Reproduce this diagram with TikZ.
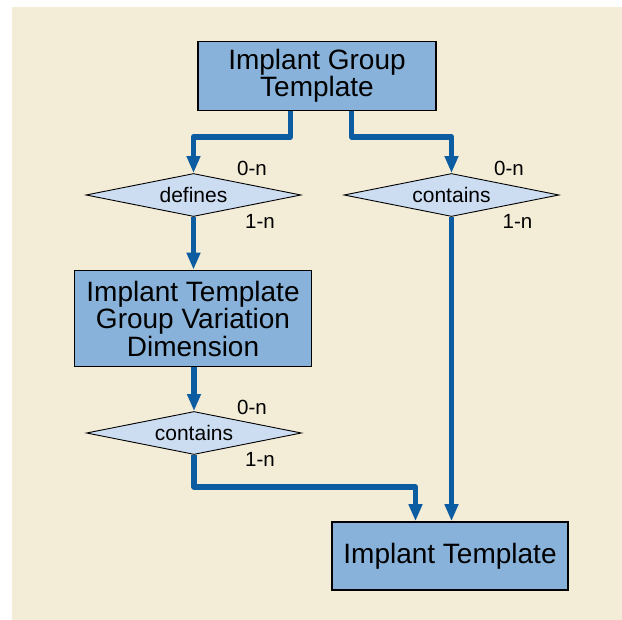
\documentclass[tikz,border=0pt]{standalone}
\usepackage{fontspec}
\setmainfont{Liberation Sans}
\usetikzlibrary{shapes.geometric,arrows.meta}
\definecolor{paper}{HTML}{F3ECD7}
\definecolor{entityfill}{HTML}{88B2D9}
\definecolor{relfill}{HTML}{CCDDF1}
\definecolor{flowblue}{HTML}{0B5CA0}
\begin{document}
\begin{tikzpicture}[x=1pt,y=-1pt,
  entity/.style={draw=black,line width=1.6pt,fill=entityfill,rectangle,
    inner sep=0pt,align=center,font=\fontsize{28}{27.5}\selectfont},
  relation/.style={draw=black,line width=0.9pt,fill=relfill,diamond,aspect=5,
    inner sep=0pt,minimum width=215pt,minimum height=43pt,
    font=\fontsize{21}{24}\selectfont},
  card/.style={inner sep=0pt,font=\fontsize{20.5}{24}\selectfont},
  flow/.style={draw=flowblue,line width=5.5pt,line join=round,
    -{Triangle[width=13pt,length=17pt]}}]
  \useasboundingbox (0,0) rectangle (622,620);
  \fill[paper] (12,7) rectangle (622,620);

  % entities
  \node[entity,minimum width=238pt,minimum height=69pt] (igt) at (317,76)
    {Implant Group\\Template};
  \node[entity,minimum width=237pt,minimum height=96pt] (itgvd) at (193,318.5)
    {Implant Template\\Group Variation\\Dimension};
  \node[entity,minimum width=236pt,minimum height=68pt] (it) at (450,556)
    {Implant Template};

  % relationships
  \node[relation] (defines) at (193.5,195) {defines};
  \node[relation] (containsR) at (451.5,195) {contains};
  \node[relation] (containsL) at (194,433) {contains};

  % cardinalities
  \node[card] (c1) at (252,168) {0-n};
  \node[card] (c2) at (260,221) {1-n};
  \node[card] (c3) at (509,168) {0-n};
  \node[card] (c4) at (517.5,221) {1-n};
  \node[card] (c5) at (252,407) {0-n};
  \node[card] (c6) at (260,459) {1-n};

  % connectors
  \draw[flow] ([xshift=-26.5pt]igt.south) -- ++(0,25.5) -| (defines.north);
  \draw[flow] ([xshift=34.7pt]igt.south) -- ++(0,25.5) -| (containsR.north);
  \draw[flow] (defines.south) -- (defines.south |- itgvd.north);
  \draw[flow] (itgvd.south -| containsL.north) -- (containsL.north);
  \draw[flow] (containsL.south) -- ++(0,32) -| ([xshift=-34.5pt]it.north);
  \draw[flow] (containsR.south) -- (containsR.south |- it.north);
\end{tikzpicture}
\end{document}
